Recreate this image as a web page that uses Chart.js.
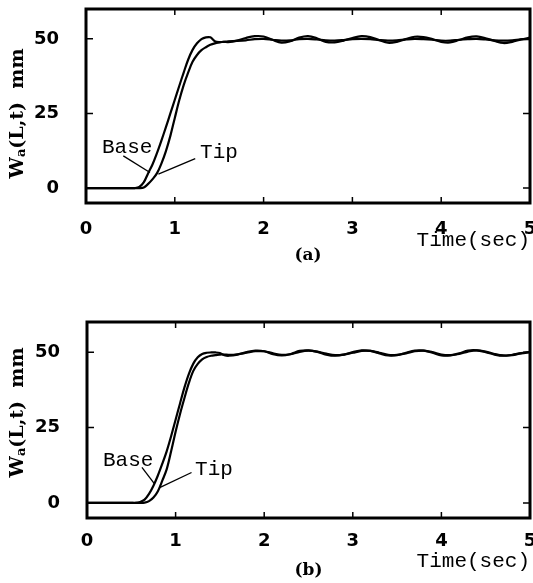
<!DOCTYPE html>
<html>
<head>
<meta charset="utf-8">
<script src="https://cdn.jsdelivr.net/npm/chart.js@4/dist/chart.umd.min.js"></script>
<style>
  html, body { margin: 0; padding: 0; background: #fff; }
  #wrap { position: relative; width: 533px; height: 583px; }
  canvas { position: absolute; left: 0; }
</style>
</head>
<body>
<div id="wrap">
  <canvas id="plotA" width="533" height="290" style="top:0"></canvas>
  <canvas id="plotB" width="533" height="293" style="top:290px"></canvas>
</div>
<script>
// sample times (sec), denser through the rise
const time = [0, 0.5, 0.55, 0.6, 0.65, 0.7, 0.75, 0.8, 0.85, 0.9, 0.95, 1.0, 1.05, 1.1, 1.15,
  1.2, 1.25, 1.3, 1.35, 1.4, 1.45, 1.5, 1.55, 1.6, 1.7, 1.8, 1.9, 2.0, 2.1, 2.2, 2.3, 2.4, 2.5,
  2.6, 2.7, 2.8, 2.9, 3.0, 3.1, 3.2, 3.3, 3.4, 3.5, 3.6, 3.7, 3.8, 3.9, 4.0, 4.1, 4.2, 4.3, 4.4,
  4.5, 4.6, 4.7, 4.8, 4.9, 5.0];

// case (a), mm
const baseA = [0, 0, 0, 0.4, 1.9, 5.0, 8.0, 11.8, 16.0, 20.4, 25.0, 29.6, 34.2, 38.7, 43.0,
  46.3, 48.5, 49.9, 50.5, 50.5, 49.2, 48.9, 49.0, 48.9,
  49.4, 50.3, 50.9, 50.8, 49.7, 48.7, 49.2, 50.4, 50.9, 50.2, 49.0, 48.8, 49.4, 50.3, 50.9, 50.6,
  49.6, 48.7, 49.0, 49.9, 50.7, 50.6, 49.9, 49.0, 48.8, 49.6, 50.5, 50.8, 50.2, 49.3, 48.6, 49.0,
  49.8, 50.4];
const tipA = [0, 0, 0, 0, 0.2, 1.4, 3.0, 5.0, 8.3, 12.4, 17.5, 23.5, 29.4, 34.5, 38.7,
  42.3, 44.6, 46.2, 47.2, 48.0, 48.5, 48.8, 49.0, 49.2,
  49.3, 49.5, 49.9, 50.0, 49.7, 49.4, 49.5, 49.9, 50.0, 49.8, 49.5, 49.4, 49.6, 49.9, 50.0, 49.9,
  49.6, 49.4, 49.5, 49.8, 50.0, 49.9, 49.7, 49.4, 49.4, 49.7, 49.9, 50.0, 49.8, 49.5, 49.4, 49.5,
  49.8, 49.9];

// case (b), mm
const baseB = [0, 0, 0, 0.3, 1.1, 3.0, 5.7, 9.1, 13.0, 17.2, 22.2, 27.6, 33.0, 38.3, 42.8,
  46.2, 48.3, 49.4, 49.8, 49.9, 49.9, 49.7, 49.0, 48.8,
  49.2, 50.0, 50.5, 50.3, 49.3, 48.9, 49.4, 50.4, 50.6, 50.1, 49.2, 48.8, 49.2, 50.0, 50.6, 50.4,
  49.6, 48.9, 49.0, 49.8, 50.5, 50.5, 49.8, 48.9, 48.9, 49.6, 50.5, 50.6, 50.0, 49.2, 48.8, 49.1,
  49.7, 50.1];
const tipB = [0, 0, 0, 0, 0.1, 0.6, 1.8, 3.9, 7.4, 11.2, 17.2, 23.6, 29.5, 34.8, 39.8,
  43.8, 46.1, 47.6, 48.4, 48.8, 49.0, 49.2, 49.2, 49.1,
  49.3, 49.8, 50.3, 50.3, 49.6, 49.1, 49.3, 50.1, 50.5, 50.2, 49.5, 49.0, 49.2, 49.8, 50.4, 50.4,
  49.8, 49.1, 49.1, 49.6, 50.3, 50.5, 50.0, 49.2, 49.0, 49.4, 50.2, 50.6, 50.2, 49.4, 48.9, 49.0,
  49.6, 50.0];

const timeTicks = [0, 1, 2, 3, 4, 5];
const valueTicks = [0, 25, 50];

const INK = '#000';

// boxed frame with inward ticks, the W_a(L,t) title, the panel tag and the Base/Tip callouts
const framePlugin = {
  id: 'frame',
  afterDatasetsDraw(chart, args, o) {
    const { ctx, chartArea: a, scales: { x, y } } = chart;
    ctx.save();
    ctx.strokeStyle = INK;
    ctx.fillStyle = INK;

    ctx.lineWidth = 1.5;
    ctx.beginPath();
    timeTicks.slice(1, -1).forEach(t => {
      const px = x.getPixelForValue(t);
      ctx.moveTo(px, a.top); ctx.lineTo(px, a.top + 6);
      ctx.moveTo(px, a.bottom); ctx.lineTo(px, a.bottom - 6);
    });
    valueTicks.forEach(v => {
      const py = y.getPixelForValue(v);
      ctx.moveTo(a.left, py); ctx.lineTo(a.left + 7, py);
      ctx.moveTo(a.right, py); ctx.lineTo(a.right - 7, py);
    });
    ctx.stroke();

    ctx.lineWidth = 3;
    ctx.strokeRect(a.left, a.top, a.right - a.left, a.bottom - a.top);

    // callouts
    ctx.font = '21px "Liberation Mono"';
    ctx.textBaseline = 'alphabetic';
    ctx.textAlign = 'left';
    ctx.lineWidth = 1.3;
    o.notes.forEach(n => {
      ctx.fillText(n.text, x.getPixelForValue(n.at[0]), y.getPixelForValue(n.at[1]));
      ctx.beginPath();
      ctx.moveTo(x.getPixelForValue(n.from[0]), y.getPixelForValue(n.from[1]));
      ctx.lineTo(x.getPixelForValue(n.to[0]), y.getPixelForValue(n.to[1]));
      ctx.stroke();
    });

    // panel tag under the axis
    ctx.font = 'bold 17px "DejaVu Serif"';
    ctx.textAlign = 'center';
    ctx.textBaseline = 'middle';
    ctx.fillText(o.panel, (a.left + a.right) / 2, a.bottom + 53);

    // rotated axis title with subscript
    ctx.translate(18, y.getPixelForValue(o.titleAt));
    ctx.rotate(-Math.PI / 2);
    const big = 'bold 19px "DejaVu Serif"', small = 'bold 13px "DejaVu Serif"';
    const parts = [['W', big, 0], ['a', small, 4], ['(L,t)  mm', big, 0]];
    let w = 0;
    parts.forEach(p => { ctx.font = p[1]; w += ctx.measureText(p[0]).width; });
    let cx = -w / 2;
    ctx.textAlign = 'left';
    ctx.textBaseline = 'middle';
    parts.forEach(p => {
      ctx.font = p[1];
      ctx.fillText(p[0], cx, p[2]);
      cx += ctx.measureText(p[0]).width;
    });
    ctx.restore();
  }
};

function makePlot(id, base, tip, cfg) {
  const series = vals => time.map((t, i) => ({ x: t, y: vals[i] }));
  const line = { borderColor: INK, borderWidth: 2.2, pointRadius: 0, tension: 0.35, fill: false };
  return new Chart(document.getElementById(id), {
    type: 'line',
    data: {
      datasets: [
        { label: 'Base', data: series(base), ...line },
        { label: 'Tip', data: series(tip), ...line }
      ]
    },
    options: {
      responsive: false,
      animation: false,
      devicePixelRatio: 1,
      layout: { padding: { top: cfg.top, right: 3, left: 0, bottom: 0 } },
      plugins: {
        legend: { display: false },
        tooltip: { enabled: false },
        frame: cfg.frame
      },
      scales: {
        x: {
          type: 'linear', min: 0, max: 5,
          grid: { display: false }, border: { display: false },
          afterBuildTicks: s => { s.ticks = timeTicks.map(v => ({ value: v })); },
          afterFit: s => { s.height = cfg.axisHeight; s.paddingLeft = 0; s.paddingRight = 0; },
          ticks: {
            color: INK, padding: cfg.tickPad, maxRotation: 0,
            font: { family: 'DejaVu Sans', size: 18, weight: 'bold' }
          },
          title: {
            display: true, text: 'Time(sec)', align: 'end', color: INK,
            font: { family: 'Liberation Mono', size: 21 },
            padding: { top: 0, bottom: cfg.titlePad }
          }
        },
        y: {
          min: -5, max: 60,
          grid: { display: false }, border: { display: false },
          afterBuildTicks: s => { s.ticks = valueTicks.map(v => ({ value: v })); },
          afterFit: s => { s.width = cfg.axisWidth; s.paddingTop = 0; s.paddingBottom = 0; },
          ticks: {
            color: INK, padding: 19,
            font: { family: 'DejaVu Sans', size: 18, weight: 'bold' }
          }
        }
      }
    },
    plugins: [framePlugin]
  });
}

makePlot('plotA', baseA, tipA, {
  top: 9, axisWidth: 86, axisHeight: 87, tickPad: 8, titlePad: 37,
  frame: {
    panel: '(a)', titleAt: 25,
    notes: [
      { text: 'Base', at: [0.18, 11.7], from: [0.42, 10.8], to: [0.72, 5.2] },
      { text: 'Tip', at: [1.285, 10], from: [1.23, 9.9], to: [0.815, 4.7] }
    ]
  }
});

makePlot('plotB', baseB, tipB, {
  top: 32, axisWidth: 87, axisHeight: 65, tickPad: 5, titlePad: 9,
  frame: {
    panel: '(b)', titleAt: 30,
    notes: [
      { text: 'Base', at: [0.18, 12.3], from: [0.62, 11.8], to: [0.76, 6.4] },
      { text: 'Tip', at: [1.22, 9.3], from: [1.18, 10.1], to: [0.82, 5.1] }
    ]
  }
});
</script>
</body>
</html>
